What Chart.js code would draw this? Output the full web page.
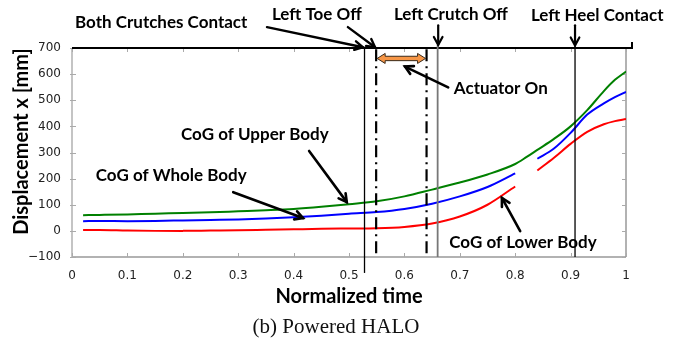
<!DOCTYPE html>
<html>
<head>
<meta charset="utf-8">
<script src="https://cdn.jsdelivr.net/npm/chart.js@4.4.1/dist/chart.umd.min.js"></script>
<style>
    html, body { margin: 0; padding: 0; background: #fff; }
    #wrap { width: 683px; height: 339px; position: relative; }
</style>
</head>
<body>
<div id="wrap"><canvas id="myChart"></canvas></div>
<script>
// values
var timeSteps = [0.02, 0.05, 0.1, 0.15, 0.2, 0.25, 0.3, 0.35, 0.4, 0.45, 0.5, 0.55, 0.6, 0.65, 0.7, 0.75, 0.8, 0.82, 0.84, 0.87, 0.9, 0.93, 0.96, 0.98, 1.0];
var upperBody = [60, 61, 63, 66, 68, 71, 75, 79, 84, 92, 102, 113, 132, 158, 185, 216, 256, 282, 310, 352, 400, 462, 535, 578, 610];
var wholeBody = [37, 38, 37, 38, 40, 42, 44, 47, 52, 58, 66, 72, 84, 104, 132, 168, 220, null, 276, 315, 375, 445, 488, 512, 532];
var lowerBody = [3, 3, 1, 0, 0, 1, 2, 4, 6, 8, 9, 10, 15, 28, 55, 100, 170, null, 231, 280, 333, 379, 408, 420, 428];

var xTicks = [0, 0.1, 0.2, 0.3, 0.4, 0.5, 0.6, 0.7, 0.8, 0.9, 1];
var yTicks = [-100, 0, 100, 200, 300, 400, 500, 600, 700];

var eventTimes = [0.528, 0.549, 0.640, 0.660, 0.908];
var eventLabels = ['Both Crutches Contact', 'Left Toe Off', 'Left Crutch Off', 'Left Heel Contact'];
var curveLabels = ['CoG of Upper Body', 'CoG of Whole Body', 'CoG of Lower Body'];
var actuatorLabel = 'Actuator On';

// how the event lines look (one per eventTimes entry)
var eventStyles = [
    { color: '#000', width: 1.3, dash: [], from: 705, to: -161 },
    { color: '#000', width: 2.2, dash: [12, 5, 2, 5], from: 695, to: -88 },
    { color: '#000', width: 2.2, dash: [12, 5, 2, 5], from: 695, to: -88 },
    { color: '#777', width: 1.8, dash: [], from: 712, to: -100 },
    { color: '#000', width: 1.3, dash: [], from: 712, to: -100 }
];

// annotation placement in data units [time, mm]
var textNotes = [
    { text: eventLabels[0], at: [0.161, 799] },
    { text: eventLabels[1], at: [0.442, 830] },
    { text: eventLabels[2], at: [0.684, 830] },
    { text: eventLabels[3], at: [0.948, 826] },
    { text: actuatorLabel, at: [0.774, 545] },
    { text: curveLabels[0], at: [0.330, 368] },
    { text: curveLabels[1], at: [0.179, 210] },
    { text: curveLabels[2], at: [0.814, -43] }
];
var arrowNotes = [
    { from: [0.352, 780], to: [0.525, 703], w: 2.4 },
    { from: [0.498, 780], to: [0.547, 703], w: 2.4 },
    { from: [0.661, 787], to: [0.661, 712], w: 2.2 },
    { from: [0.908, 787], to: [0.908, 710], w: 2.2 },
    { from: [0.679, 549], to: [0.601, 629], w: 2.6 },
    { from: [0.428, 306], to: [0.496, 110], w: 2.6 },
    { from: [0.291, 148], to: [0.417, 49], w: 2.6 },
    { from: [0.809, -1], to: [0.776, 126], w: 2.6 }
];
var actuatorSpan = [eventTimes[1], eventTimes[2]];

var noteFont = 'bold 17px Lato';

function points(values) {
    return timeSteps.map(function (t, i) {
        return { x: t, y: values[i] };
    });
}

function drawArrow(ctx, x1, y1, x2, y2, w) {
    var ang = Math.atan2(y2 - y1, x2 - x1);
    var head = 9;
    ctx.save();
    ctx.strokeStyle = '#000';
    ctx.lineWidth = w;
    ctx.lineCap = 'round';
    ctx.lineJoin = 'miter';
    ctx.beginPath();
    ctx.moveTo(x1, y1);
    ctx.lineTo(x2, y2);
    ctx.stroke();
    ctx.beginPath();
    ctx.moveTo(x2 - head * Math.cos(ang - 0.5), y2 - head * Math.sin(ang - 0.5));
    ctx.lineTo(x2, y2);
    ctx.lineTo(x2 - head * Math.cos(ang + 0.5), y2 - head * Math.sin(ang + 0.5));
    ctx.stroke();
    ctx.restore();
}

var haloPlugin = {
    id: 'halo',
    beforeDatasetsDraw: function (chart) {
        var ctx = chart.ctx;
        var a = chart.chartArea;
        var xs = chart.scales.x;
        var ys = chart.scales.y;
        ctx.save();
        // frame
        ctx.strokeStyle = '#c4c4c4';
        ctx.lineWidth = 2;
        ctx.beginPath();
        ctx.moveTo(a.left, a.top);
        ctx.lineTo(a.left, a.bottom);
        ctx.stroke();
        ctx.strokeStyle = '#999';
        ctx.lineWidth = 1.5;
        ctx.beginPath();
        ctx.moveTo(a.left, a.bottom);
        ctx.lineTo(a.right, a.bottom);
        ctx.moveTo(a.right, a.top);
        ctx.lineTo(a.right, a.bottom);
        ctx.stroke();
        // inward ticks
        ctx.strokeStyle = '#aaa';
        ctx.lineWidth = 1;
        ctx.beginPath();
        xTicks.forEach(function (v) {
            var px = Math.round(xs.getPixelForValue(v)) + 0.5;
            ctx.moveTo(px, a.bottom);
            ctx.lineTo(px, a.bottom - 4);
            ctx.moveTo(px, a.top);
            ctx.lineTo(px, a.top + 4);
        });
        yTicks.forEach(function (v) {
            var py = Math.round(ys.getPixelForValue(v)) + 0.5;
            ctx.moveTo(a.left - 2, py);
            ctx.lineTo(a.left + 4, py);
            ctx.moveTo(a.right, py);
            ctx.lineTo(a.right - 4, py);
        });
        ctx.stroke();
        // top border
        ctx.strokeStyle = '#000';
        ctx.lineWidth = 2;
        ctx.beginPath();
        ctx.moveTo(a.left, a.top);
        ctx.lineTo(a.right + 6, a.top);
        ctx.lineTo(a.right + 6, a.top - 6);
        ctx.stroke();
        ctx.restore();
    },
    afterDatasetsDraw: function (chart) {
        var ctx = chart.ctx;
        var a = chart.chartArea;
        var xs = chart.scales.x;
        var ys = chart.scales.y;
        var px = function (v) { return xs.getPixelForValue(v); };
        var py = function (v) { return ys.getPixelForValue(v); };
        ctx.save();

        // event lines
        eventTimes.forEach(function (t, i) {
            var s = eventStyles[i];
            ctx.strokeStyle = s.color;
            ctx.lineWidth = s.width;
            ctx.setLineDash(s.dash);
            ctx.beginPath();
            ctx.moveTo(px(t), py(s.from));
            ctx.lineTo(px(t), py(s.to));
            ctx.stroke();
        });
        ctx.setLineDash([]);

        // actuator double arrow
        var ax1 = px(actuatorSpan[0]) + 1, ax2 = px(actuatorSpan[1]) - 1, ay = py(660);
        ctx.beginPath();
        ctx.moveTo(ax1, ay);
        ctx.lineTo(ax1 + 8, ay - 5);
        ctx.lineTo(ax1 + 8, ay - 2.2);
        ctx.lineTo(ax2 - 8, ay - 2.2);
        ctx.lineTo(ax2 - 8, ay - 5);
        ctx.lineTo(ax2, ay);
        ctx.lineTo(ax2 - 8, ay + 5);
        ctx.lineTo(ax2 - 8, ay + 2.2);
        ctx.lineTo(ax1 + 8, ay + 2.2);
        ctx.lineTo(ax1 + 8, ay + 5);
        ctx.closePath();
        ctx.fillStyle = '#f79646';
        ctx.fill();
        ctx.strokeStyle = '#3a2a1a';
        ctx.lineWidth = 1;
        ctx.stroke();

        // arrows
        arrowNotes.forEach(function (n) {
            drawArrow(ctx, px(n.from[0]), py(n.from[1]), px(n.to[0]), py(n.to[1]), n.w);
        });

        // labels
        ctx.fillStyle = '#000';
        ctx.font = noteFont;
        ctx.textAlign = 'center';
        ctx.textBaseline = 'middle';
        textNotes.forEach(function (n) {
            ctx.fillText(n.text, px(n.at[0]), py(n.at[1]));
        });

        // y axis title
        ctx.save();
        ctx.translate(22, (a.top + a.bottom) / 2 - 11);
        ctx.rotate(-Math.PI / 2);
        ctx.font = 'bold 20px Lato';
        ctx.fillText('Displacement x [mm]', 0, 0);
        ctx.restore();

        // caption
        ctx.font = '21px "Liberation Serif"';
        ctx.fillStyle = '#111';
        ctx.fillText('(b) Powered HALO', (a.left + a.right) / 2 - 13, 327);
        ctx.restore();
    }
};

document.addEventListener('DOMContentLoaded', function () {
    var ctx = document.getElementById('myChart');

    new Chart(ctx, {
        type: 'line',
        data: {
            datasets: [{
                label: curveLabels[0],
                data: points(upperBody),
                borderColor: '#008000'
            }, {
                label: curveLabels[1],
                data: points(wholeBody),
                borderColor: '#0000ff'
            }, {
                label: curveLabels[2],
                data: points(lowerBody),
                borderColor: '#ff0000'
            }]
        },
        options: {
            responsive: true,
            maintainAspectRatio: false,
            animation: false,
            spanGaps: false,
            elements: {
                point: { radius: 0 },
                line: { borderWidth: 2, cubicInterpolationMode: 'monotone' }
            },
            layout: { padding: { top: 48, right: 57, left: 0, bottom: 0 } },
            plugins: {
                legend: { display: false },
                tooltip: { enabled: false }
            },
            scales: {
                x: {
                    type: 'linear',
                    min: 0,
                    max: 1,
                    afterBuildTicks: function (scale) {
                        scale.ticks = xTicks.map(function (v) { return { value: v }; });
                    },
                    afterFit: function (scale) { scale.height = 82; },
                    grid: { display: false },
                    border: { display: false },
                    ticks: {
                        padding: 4,
                        maxRotation: 0,
                        color: '#222',
                        font: { family: 'DejaVu Sans', size: 12 },
                        callback: function (v) { return String(v); }
                    },
                    title: {
                        display: true,
                        text: 'Normalized time',
                        color: '#000',
                        font: { family: 'Lato', weight: 'bold', size: 20 },
                        padding: { top: 0, bottom: 30 }
                    }
                },
                y: {
                    min: -100,
                    max: 700,
                    afterBuildTicks: function (scale) {
                        scale.ticks = yTicks.map(function (v) { return { value: v }; });
                    },
                    afterFit: function (scale) { scale.width = 72; },
                    grid: { display: false },
                    border: { display: false },
                    ticks: {
                        padding: 3,
                        color: '#222',
                        font: { family: 'DejaVu Sans', size: 12 },
                        callback: function (v) { return v < 0 ? '\u2212' + Math.abs(v) : String(v); }
                    }
                }
            }
        },
        plugins: [haloPlugin]
    });
});
</script>
</body>
</html>
